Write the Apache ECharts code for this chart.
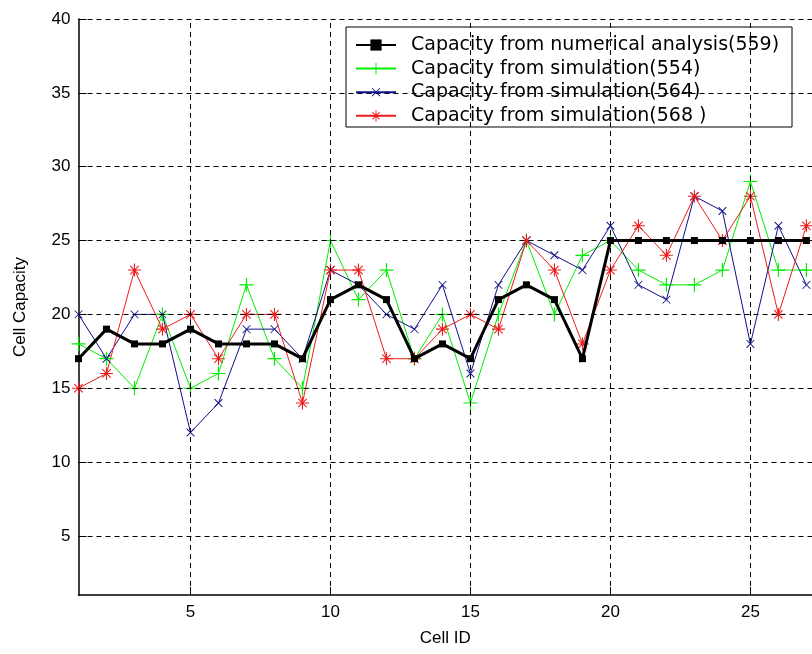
<!DOCTYPE html>
<html>
<head>
<meta charset="utf-8">
<script src="https://cdn.jsdelivr.net/npm/echarts@6/dist/echarts.min.js"></script>
<style>
html,body{margin:0;padding:0;background:#fff;}
#chart{width:812px;height:654px;}
</style>
</head>
<body>
<div id="chart"></div>
<script>
// ---- data ----
const cellIds = [1,2,3,4,5,6,7,8,9,10,11,12,13,14,15,16,17,18,19,20,21,22,23,24,25,26,27];
const numerical559 = [17,19,18,18,19,18,18,18,17,21,22,21,17,18,17,21,22,21,17,25,25,25,25,25,25,25,25];
const simulation554 = [18,17,15,20,15,16,22,17,15,25,21,23,17,20,14,20,25,20,24,25,23,22,22,23,29,23,23];
const simulation564 = [20,17,20,20,12,14,19,19,17,23,22,20,19,22,16,22,25,24,23,26,22,21,28,27,18,26,22];
const simulation568 = [15,16,23,19,20,17,20,20,14,23,23,17,17,19,20,19,25,23,18,23,26,24,28,25,28,20,26];
const seriesNames = [
  'Capacity from numerical analysis(559)',
  'Capacity from simulation(554)',
  'Capacity from simulation(564)',
  'Capacity from simulation(568 )'
];
const xTickValues = [5,10,15,20,25];
const yTickValues = [5,10,15,20,25,30,35,40];

// ---- symbols ----
const plusPath = 'path://M11,0h2v24h-2zM0,11h24v2h-24z';
const starPath = 'path://M11,0h2v24h-2zM0,11h24v2h-24zM3.5,4.9L4.9,3.5L20.5,19.1L19.1,20.5ZM19.1,3.5L20.5,4.9L4.9,20.5L3.5,19.1Z';

const pairs = arr => arr.map((v, i) => [cellIds[i], v]);
const font = 'Liberation Sans, Arial, sans-serif';

const chart = echarts.init(document.getElementById('chart'));
chart.setOption({
  animation: false,
  backgroundColor: '#fff',
  grid: { left: 78.5, right: -4, top: 19, bottom: 59, containLabel: false },
  xAxis: {
    type: 'value', min: 1, max: 27.2,
    name: 'Cell ID', nameLocation: 'middle', nameGap: 35,
    nameTextStyle: { fontFamily: font, fontSize: 17, color: '#000' },
    axisLine: { onZero: false, lineStyle: { color: '#000', width: 1.5 } },
    axisTick: { inside: true, length: 8, customValues: xTickValues, lineStyle: { color: '#000' } },
    axisLabel: { customValues: xTickValues, margin: 9, fontFamily: font, fontSize: 17, color: '#000' },
    splitLine: { show: false }
  },
  yAxis: {
    type: 'value', min: 1, max: 40,
    name: 'Cell Capacity', nameLocation: 'middle', nameGap: 50, nameRotate: 90,
    nameTextStyle: { fontFamily: font, fontSize: 17, color: '#000' },
    axisLine: { onZero: false, lineStyle: { color: '#000', width: 1.5 } },
    axisTick: { inside: true, length: 8, customValues: yTickValues, lineStyle: { color: '#000' } },
    axisLabel: { customValues: yTickValues, margin: 8, fontFamily: font, fontSize: 17, color: '#000' },
    splitLine: { show: false }
  },
  legend: {
    data: seriesNames,
    orient: 'vertical', left: 355, top: 35.5, padding: 0,
    itemWidth: 40, itemHeight: 14, itemGap: 4.6, itemTextGap: 16,
    textStyle: { fontFamily: 'DejaVu Sans', fontSize: 19, color: '#000', lineHeight: 19, padding: [0, 0, 0, 10] },
    z: 10
  },
  graphic: [{
    type: 'rect', z: 5,
    shape: { x: 346, y: 27, width: 446, height: 100 },
    style: { fill: '#fff', stroke: '#000', lineWidth: 1 }
  }],
  series: [
    {
      name: 'grid', type: 'line', data: [], z: 1, silent: true,
      markLine: {
        silent: true, symbol: 'none', label: { show: false },
        lineStyle: { color: '#000', type: [5, 4], width: 1 },
        emphasis: { disabled: true },
        data: xTickValues.map(v => ({ xAxis: v })).concat(yTickValues.map(v => ({ yAxis: v })))
      }
    },
    {
      name: seriesNames[0], type: 'line', z: 3, data: pairs(numerical559),
      symbol: 'rect', symbolSize: 7,
      lineStyle: { color: '#000', width: 3 }, itemStyle: { color: '#000' }
    },
    {
      name: seriesNames[1], type: 'line', z: 2, data: pairs(simulation554),
      symbol: plusPath, symbolSize: 14,
      lineStyle: { color: '#00ee00', width: 1 }, itemStyle: { color: '#00ee00' }
    },
    {
      name: seriesNames[2], type: 'line', z: 2, data: pairs(simulation564),
      symbol: plusPath, symbolSize: 11, symbolRotate: 45,
      lineStyle: { color: '#10108a', width: 1 }, itemStyle: { color: '#10108a' }
    },
    {
      name: seriesNames[3], type: 'line', z: 2, data: pairs(simulation568),
      symbol: starPath, symbolSize: 13,
      lineStyle: { color: '#ee1c1c', width: 1 }, itemStyle: { color: '#ee1c1c' }
    }
  ]
});
</script>
</body>
</html>
